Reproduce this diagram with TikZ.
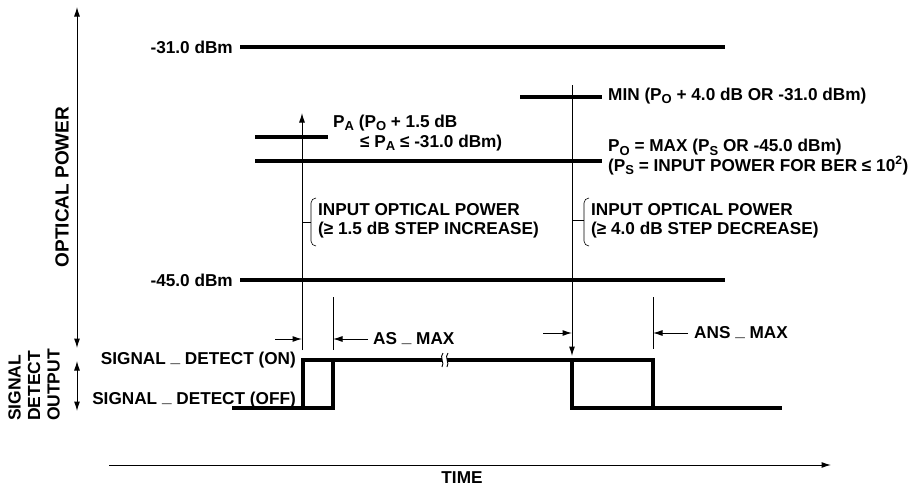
\documentclass[tikz,border=0pt]{standalone}
\usepackage{fontspec}
\setmainfont{Liberation Sans}
\usetikzlibrary{arrows.meta}
\newcommand{\usc}{\raisebox{.14em}{\_}}
\newcommand{\lowsub}[1]{\raisebox{-.2em}{\fontsize{13}{14}\selectfont #1}}
\tikzset{
  lvl/.style={line width=3.4pt},
  thinline/.style={line width=1pt},
  arr/.style={thinline, -{Latex[length=9.5pt,width=6pt]}},
  lbl/.style={font=\bfseries\fontsize{17.2}{19}\selectfont, inner sep=0pt},
}
\begin{document}
\begin{tikzpicture}[x=1pt, y=-1pt]
\useasboundingbox (0,0) rectangle (918,488);
% axes
\coordinate (pw top) at (77,7);
\coordinate (pw bot) at (77,348);
\coordinate (sd top) at (77,361);
\coordinate (sd bot) at (77,411);
\coordinate (t start) at (109,465);
\coordinate (t end) at (831,465);
\draw[arr, {Latex[length=9.5pt,width=6pt]}-{Latex[length=9.5pt,width=6pt]}] (pw top) -- (pw bot);
\draw[arr, {Latex[length=9.5pt,width=6pt]}-{Latex[length=9.5pt,width=6pt]}] (sd top) -- (sd bot);
\draw[arr] (t start) -- (t end);
\node[lbl, rotate=90, font=\bfseries\fontsize{19}{21}\selectfont] (optpow) at (62,187) {OPTICAL POWER};
\node[lbl, rotate=90, align=left, font=\bfseries\fontsize{17.5}{19.5}\selectfont] (sdout) at (34,385) {SIGNAL\\DETECT\\OUTPUT};
\node[lbl] (time) at (462,478) {TIME};
% power levels
\node[lbl, anchor=east] (l31) at (233,47) {-31.0 dBm};
\node[lbl, anchor=east] (l45) at (233,280) {-45.0 dBm};
\draw[lvl] (240,47) -- (725,47);
\draw[lvl] (240,280) -- (725,280);
\draw[lvl] (255,137) -- (328,137);
\draw[lvl] (255,161) -- (602,161);
\draw[lvl] (520,97) -- (602,97);
\node[lbl, anchor=west] (pa1) at (333,123) {P\lowsub{A} (P\lowsub{O} + 1.5 dB};
\node[lbl, anchor=west] (pa2) at (360,143) {≤ P\lowsub{A} ≤ -31.0 dBm)};
\node[lbl, anchor=west] (pmin) at (608,96) {MIN (P\lowsub{O} + 4.0 dB OR -31.0 dBm)};
\node[lbl, anchor=west, align=left, font=\bfseries\fontsize{17.2}{18}\selectfont] (pmax) at (608,157)
  {P\lowsub{O} = MAX (P\lowsub{S} OR -45.0 dBm)\\(P\lowsub{S} = INPUT POWER FOR BER ≤ 10\textsuperscript{2})};
% step arrows
\coordinate (up bot) at (302,350);
\coordinate (up top) at (302,113);
\coordinate (dn top) at (572,85);
\coordinate (dn bot) at (572,356);
\draw[arr] (up bot) -- (up top);
\draw[arr] (dn top) -- (dn bot);
% brackets
\draw[line width=0.6pt] (316,198) to[out=180,in=90] (311,203) -- (311,241) to[out=-90,in=180] (316,246);
\draw[line width=0.6pt] (302,222) -- (311,222);
\node[lbl, anchor=west, align=left, font=\bfseries\fontsize{17.2}{19.5}\selectfont] (inc) at (318,221)
  {INPUT OPTICAL POWER\\(≥ 1.5 dB STEP INCREASE)};
\draw[line width=0.6pt] (589,198) to[out=180,in=90] (584,203) -- (584,241) to[out=-90,in=180] (589,246);
\draw[line width=0.6pt] (572,220) -- (584,220);
\node[lbl, anchor=west, align=left, font=\bfseries\fontsize{17.2}{19.5}\selectfont] (dec) at (591,221)
  {INPUT OPTICAL POWER\\(≥ 4.0 dB STEP DECREASE)};
% signal detect trace
\node[lbl, anchor=east] (son) at (296,360) {SIGNAL \usc{} DETECT (ON)};
\node[lbl, anchor=east] (soff) at (296,400) {SIGNAL \usc{} DETECT (OFF)};
\draw[lvl] (232,408) -- (333,408) -- (333,360);
\draw[lvl] (303,408) -- (303,360) -- (442,360);
\draw[lvl] (447,360) -- (653,360) -- (653,408);
\draw[lvl] (572,360) -- (572,408) -- (782,408);
% break mark
\draw[line width=0.9pt] (443,353) .. controls (439,357) and (445,363) .. (442,367);
\draw[line width=0.9pt] (448,353) .. controls (444,357) and (450,363) .. (447,367);
% AS - MAX
\draw[thinline] (333,297) -- (333,350);
\draw[arr] (275,339) -- (302,339);
\draw[arr] (368,339) -- (333,339);
\node[lbl, anchor=west] (asmax) at (373,339) {AS \usc{} MAX};
% ANS - MAX
\draw[thinline] (653,297) -- (653,349);
\draw[arr] (543,333) -- (572,333);
\draw[arr] (688,333) -- (653,333);
\node[lbl, anchor=west] (ansmax) at (694,333) {ANS \usc{} MAX};
\end{tikzpicture}
\end{document}
